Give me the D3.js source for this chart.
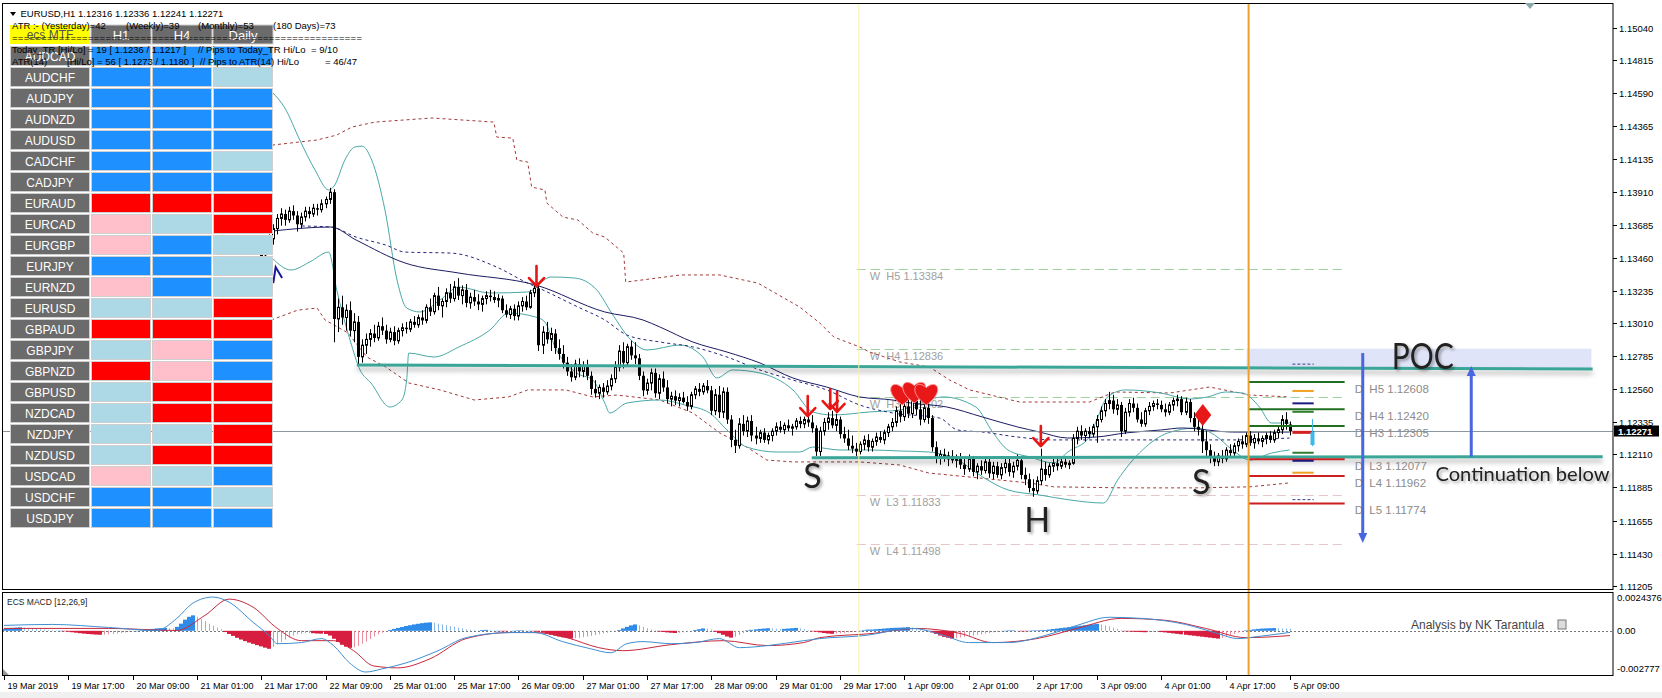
<!DOCTYPE html>
<html>
<head>
<meta charset="utf-8">
<script src="https://cdn.jsdelivr.net/npm/d3@7"></script>
<style>
  body { margin: 0; background: #fff; }
  svg { display: block; font-family: "Liberation Sans", Arial, sans-serif; }
</style>
</head>
<body>
<div id="chart"></div>
<script>
// ---- data ----
const firstBar = 64;   // bars before this sit behind the MTF table
// [open, high, low, close], one per H1 bar from bar 64 to bar 320
const ohlc = [
[1.1343,1.1352,1.1338,1.1348],[1.1348,1.1356,1.1344,1.1353],[1.1353,1.1362,1.1349,1.1359],[1.1359,1.1369,1.1355,1.1366],
[1.1366,1.1376,1.1362,1.1373],[1.1373,1.1380,1.1368,1.1376],[1.1376,1.1379,1.1368,1.1372],[1.1372,1.1381,1.1370,1.1378],
[1.1378,1.1382,1.1372,1.1375],[1.1375,1.1378,1.1364,1.1369],[1.1369,1.1377,1.1366,1.1374],[1.1374,1.1381,1.1371,1.1378],
[1.1378,1.1381,1.1373,1.1376],[1.1376,1.1383,1.1374,1.1380],[1.1380,1.1383,1.1375,1.1379],[1.1379,1.1386,1.1377,1.1383],
[1.1383,1.1388,1.1380,1.1386],[1.1386,1.1394,1.1383,1.1391],[1.1391,1.1393,1.1288,1.1304],[1.1304,1.1318,1.1295,1.1312],
[1.1312,1.1320,1.1300,1.1305],[1.1305,1.1314,1.1296,1.1310],[1.1310,1.1316,1.1292,1.1296],[1.1296,1.1308,1.1288,1.1302],
[1.1302,1.1306,1.1273,1.1278],[1.1278,1.1290,1.1274,1.1286],[1.1286,1.1294,1.1280,1.1290],[1.1290,1.1297,1.1285,1.1294],
[1.1294,1.1300,1.1288,1.1291],[1.1291,1.1302,1.1289,1.1299],[1.1299,1.1305,1.1293,1.1296],[1.1296,1.1300,1.1287,1.1290],
[1.1290,1.1298,1.1288,1.1295],[1.1295,1.1299,1.1286,1.1289],[1.1289,1.1298,1.1287,1.1296],[1.1296,1.1301,1.1292,1.1298],
[1.1298,1.1302,1.1294,1.1297],[1.1297,1.1304,1.1295,1.1302],[1.1302,1.1306,1.1298,1.1300],[1.1300,1.1307,1.1298,1.1305],
[1.1305,1.1310,1.1300,1.1303],[1.1303,1.1314,1.1301,1.1312],[1.1312,1.1318,1.1306,1.1309],[1.1309,1.1322,1.1307,1.1320],
[1.1320,1.1326,1.1310,1.1313],[1.1313,1.1318,1.1305,1.1316],[1.1316,1.1325,1.1312,1.1322],[1.1322,1.1328,1.1315,1.1318],
[1.1318,1.1330,1.1316,1.1326],[1.1326,1.1332,1.1317,1.1320],[1.1320,1.1327,1.1314,1.1324],[1.1324,1.1328,1.1312,1.1315],
[1.1315,1.1322,1.1311,1.1319],[1.1319,1.1324,1.1313,1.1316],[1.1316,1.1321,1.1310,1.1314],[1.1314,1.1320,1.1309,1.1318],
[1.1318,1.1323,1.1314,1.1320],[1.1320,1.1324,1.1316,1.1319],[1.1319,1.1323,1.1315,1.1317],[1.1317,1.1321,1.1312,1.1318],
[1.1318,1.1320,1.1308,1.1310],[1.1310,1.1314,1.1305,1.1307],[1.1307,1.1313,1.1304,1.1311],[1.1311,1.1314,1.1303,1.1306],
[1.1306,1.1316,1.1303,1.1313],[1.1313,1.1319,1.1309,1.1316],[1.1316,1.1320,1.1310,1.1312],[1.1312,1.1324,1.1311,1.1322],
[1.1322,1.1329,1.1319,1.1325],[1.1325,1.1327,1.1282,1.1286],[1.1286,1.1299,1.1280,1.1295],[1.1295,1.1302,1.1287,1.1290],
[1.1290,1.1298,1.1282,1.1294],[1.1294,1.1297,1.1280,1.1284],[1.1284,1.1290,1.1276,1.1280],[1.1280,1.1286,1.1270,1.1274],
[1.1274,1.1278,1.1265,1.1268],[1.1268,1.1273,1.1261,1.1264],[1.1264,1.1276,1.1262,1.1273],[1.1273,1.1277,1.1264,1.1268],
[1.1268,1.1275,1.1264,1.1272],[1.1272,1.1276,1.1262,1.1265],[1.1265,1.1268,1.1252,1.1256],[1.1256,1.1262,1.1250,1.1253],
[1.1253,1.1259,1.1249,1.1257],[1.1257,1.1260,1.1250,1.1254],[1.1254,1.1262,1.1252,1.1258],[1.1258,1.1266,1.1255,1.1263],
[1.1263,1.1275,1.1260,1.1271],[1.1271,1.1286,1.1268,1.1282],[1.1282,1.1288,1.1270,1.1274],[1.1274,1.1287,1.1272,1.1285],
[1.1285,1.1289,1.1276,1.1279],[1.1279,1.1288,1.1273,1.1277],[1.1277,1.1280,1.1262,1.1265],[1.1265,1.1268,1.1251,1.1255],
[1.1255,1.1263,1.1252,1.1260],[1.1260,1.1270,1.1255,1.1267],[1.1267,1.1270,1.1250,1.1253],[1.1253,1.1266,1.1249,1.1263],
[1.1263,1.1268,1.1254,1.1257],[1.1257,1.1262,1.1246,1.1249],[1.1249,1.1254,1.1244,1.1251],[1.1251,1.1255,1.1245,1.1248],
[1.1248,1.1253,1.1244,1.1250],[1.1250,1.1254,1.1246,1.1247],[1.1247,1.1251,1.1241,1.1244],[1.1244,1.1254,1.1242,1.1252],
[1.1252,1.1258,1.1249,1.1256],[1.1256,1.1260,1.1251,1.1254],[1.1254,1.1260,1.1252,1.1258],[1.1258,1.1262,1.1253,1.1255],
[1.1255,1.1258,1.1238,1.1241],[1.1241,1.1256,1.1238,1.1252],[1.1252,1.1258,1.1236,1.1240],[1.1240,1.1257,1.1236,1.1254],
[1.1254,1.1257,1.1232,1.1235],[1.1235,1.1238,1.1216,1.1221],[1.1221,1.1228,1.1212,1.1217],[1.1217,1.1236,1.1215,1.1232],
[1.1232,1.1238,1.1224,1.1227],[1.1227,1.1237,1.1223,1.1234],[1.1234,1.1238,1.1220,1.1224],[1.1224,1.1230,1.1218,1.1222],
[1.1222,1.1228,1.1219,1.1226],[1.1226,1.1229,1.1219,1.1221],[1.1221,1.1226,1.1218,1.1224],[1.1224,1.1229,1.1220,1.1227],
[1.1227,1.1233,1.1224,1.1230],[1.1230,1.1234,1.1226,1.1228],[1.1228,1.1233,1.1225,1.1231],[1.1231,1.1235,1.1227,1.1229],
[1.1229,1.1232,1.1224,1.1230],[1.1230,1.1236,1.1228,1.1234],[1.1234,1.1237,1.1229,1.1232],[1.1232,1.1237,1.1229,1.1235],
[1.1235,1.1240,1.1230,1.1233],[1.1233,1.1238,1.1226,1.1229],[1.1229,1.1231,1.1210,1.1213],[1.1213,1.1230,1.1210,1.1227],
[1.1227,1.1236,1.1224,1.1233],[1.1233,1.1240,1.1228,1.1236],[1.1236,1.1241,1.1229,1.1231],[1.1231,1.1239,1.1227,1.1235],
[1.1235,1.1237,1.1222,1.1225],[1.1225,1.1230,1.1219,1.1222],[1.1222,1.1228,1.1214,1.1217],[1.1217,1.1224,1.1212,1.1215],
[1.1215,1.1219,1.1210,1.1213],[1.1213,1.1220,1.1211,1.1218],[1.1218,1.1224,1.1214,1.1221],[1.1221,1.1225,1.1213,1.1216],
[1.1216,1.1222,1.1213,1.1220],[1.1220,1.1226,1.1217,1.1223],[1.1223,1.1227,1.1219,1.1221],[1.1221,1.1228,1.1218,1.1226],
[1.1226,1.1232,1.1223,1.1230],[1.1230,1.1236,1.1227,1.1233],[1.1233,1.1244,1.1230,1.1241],[1.1241,1.1246,1.1233,1.1237],
[1.1237,1.1247,1.1234,1.1244],[1.1244,1.1250,1.1236,1.1239],[1.1239,1.1252,1.1236,1.1248],[1.1248,1.1254,1.1238,1.1242],
[1.1242,1.1250,1.1231,1.1235],[1.1235,1.1246,1.1233,1.1243],[1.1243,1.1250,1.1232,1.1236],[1.1236,1.1238,1.1213,1.1216],
[1.1216,1.1220,1.1205,1.1209],[1.1209,1.1214,1.1204,1.1211],[1.1211,1.1215,1.1206,1.1208],[1.1208,1.1213,1.1203,1.1210],
[1.1210,1.1214,1.1205,1.1207],[1.1207,1.1211,1.1202,1.1209],[1.1209,1.1212,1.1201,1.1204],[1.1204,1.1209,1.1197,1.1201],
[1.1201,1.1211,1.1199,1.1208],[1.1208,1.1210,1.1196,1.1199],[1.1199,1.1205,1.1194,1.1203],[1.1203,1.1207,1.1197,1.1200],
[1.1200,1.1209,1.1198,1.1206],[1.1206,1.1208,1.1195,1.1198],[1.1198,1.1206,1.1194,1.1203],[1.1203,1.1206,1.1195,1.1197],
[1.1197,1.1205,1.1194,1.1202],[1.1202,1.1208,1.1198,1.1205],[1.1205,1.1209,1.1196,1.1199],[1.1199,1.1206,1.1195,1.1203],
[1.1203,1.1211,1.1200,1.1207],[1.1207,1.1210,1.1194,1.1197],[1.1197,1.1202,1.1190,1.1194],[1.1194,1.1198,1.1185,1.1188],
[1.1188,1.1194,1.1182,1.1186],[1.1186,1.1196,1.1184,1.1193],[1.1193,1.1215,1.1190,1.1201],[1.1201,1.1206,1.1193,1.1197],
[1.1197,1.1205,1.1195,1.1203],[1.1203,1.1208,1.1199,1.1205],[1.1205,1.1209,1.1200,1.1203],[1.1203,1.1208,1.1201,1.1206],
[1.1206,1.1209,1.1202,1.1204],[1.1204,1.1207,1.1201,1.1205],[1.1205,1.1225,1.1204,1.1222],[1.1222,1.1230,1.1218,1.1227],
[1.1227,1.1231,1.1221,1.1224],[1.1224,1.1229,1.1220,1.1227],[1.1227,1.1230,1.1222,1.1225],[1.1225,1.1232,1.1223,1.1230],
[1.1230,1.1238,1.1219,1.1235],[1.1235,1.1244,1.1233,1.1241],[1.1241,1.1249,1.1237,1.1246],[1.1246,1.1254,1.1242,1.1248],
[1.1248,1.1252,1.1239,1.1242],[1.1242,1.1249,1.1238,1.1245],[1.1245,1.1247,1.1223,1.1227],[1.1227,1.1243,1.1225,1.1240],
[1.1240,1.1249,1.1237,1.1246],[1.1246,1.1250,1.1240,1.1243],[1.1243,1.1246,1.1233,1.1235],[1.1235,1.1240,1.1230,1.1232],
[1.1232,1.1243,1.1230,1.1241],[1.1241,1.1247,1.1238,1.1244],[1.1244,1.1248,1.1241,1.1246],[1.1246,1.1249,1.1242,1.1245],
[1.1245,1.1248,1.1240,1.1242],[1.1242,1.1246,1.1237,1.1240],[1.1240,1.1247,1.1238,1.1245],[1.1245,1.1250,1.1241,1.1248],
[1.1248,1.1252,1.1244,1.1249],[1.1249,1.1251,1.1238,1.1240],[1.1240,1.1250,1.1238,1.1247],[1.1247,1.1249,1.1233,1.1236],
[1.1236,1.1240,1.1227,1.1230],[1.1230,1.1236,1.1224,1.1228],[1.1228,1.1232,1.1212,1.1220],[1.1220,1.1227,1.1210,1.1214],
[1.1214,1.1218,1.1205,1.1209],[1.1209,1.1213,1.1203,1.1206],[1.1206,1.1212,1.1203,1.1210],[1.1210,1.1214,1.1205,1.1208],
[1.1208,1.1216,1.1206,1.1214],[1.1214,1.1218,1.1209,1.1212],[1.1212,1.1219,1.1210,1.1217],[1.1217,1.1222,1.1213,1.1220],
[1.1220,1.1224,1.1215,1.1218],[1.1218,1.1226,1.1216,1.1224],[1.1224,1.1227,1.1217,1.1219],[1.1219,1.1225,1.1215,1.1222],
[1.1222,1.1226,1.1218,1.1220],[1.1220,1.1224,1.1216,1.1222],[1.1222,1.1226,1.1218,1.1224],[1.1224,1.1227,1.1219,1.1221],
[1.1221,1.1228,1.1219,1.1226],[1.1226,1.1230,1.1222,1.1228],[1.1228,1.1238,1.1225,1.1235],[1.1235,1.1240,1.1228,1.1232],
[1.12316,1.12336,1.12241,1.12271]
];

const timeLabels = ["19 Mar 2019","19 Mar 17:00","20 Mar 09:00","21 Mar 01:00","21 Mar 17:00","22 Mar 09:00",
  "25 Mar 01:00","25 Mar 17:00","26 Mar 09:00","27 Mar 01:00","27 Mar 17:00","28 Mar 09:00","29 Mar 01:00",
  "29 Mar 17:00","1 Apr 09:00","2 Apr 01:00","2 Apr 17:00","3 Apr 09:00","4 Apr 01:00","4 Apr 17:00","5 Apr 09:00"];
const barsPerLabel = 16;
const priceTicks = [1.15040,1.14815,1.14590,1.14365,1.14135,1.13910,1.13685,1.13460,1.13235,1.13010,
  1.12785,1.12560,1.12335,1.12110,1.11885,1.11655,1.11430,1.11205];
const lastPrice = 1.12271;

// indicator lines: [bar, price]
const bbUpper = [[66.7,1.14597],[69.9,1.14487],[73.6,1.14268],[77.4,1.14062],[80.8,1.13925],[82.3,1.13959],[84.8,1.14130],
  [87.3,1.14220],[89.1,1.14226],[91.5,1.14130],[94.8,1.13787],[97.8,1.13307],[100.2,1.13115],[103.5,1.13088],[108.5,1.13170],
  [113.2,1.13259],[120.9,1.13218],[130.3,1.13225],[136.1,1.13328],[142.0,1.13321],[147.5,1.13239],[151.2,1.13081],[156.0,1.12896],
  [160.0,1.12827],[168.2,1.12861],[173.9,1.12779],[177.4,1.12635],[181.3,1.12690],[188.1,1.12669],[196.3,1.12553],[201.2,1.12402],
  [206.2,1.12381],[215.4,1.12402],[222.9,1.12415],[233.6,1.12505],[241.8,1.12436],[246.0,1.12264],[249.8,1.12141],[255.2,1.12093],
  [261.2,1.12052],[264.7,1.12127],[270.1,1.12230],[271.9,1.12347],[274.6,1.12505],[279.1,1.12553],[287.8,1.12532],[295.0,1.12491],
  [299.5,1.12505],[304.0,1.12539],[308.2,1.12532],[312.4,1.12436],[315.4,1.12326],[319.9,1.12326]];
const bbLower = [[66.7,1.13458],[71.4,1.13376],[76.1,1.13431],[80.8,1.13499],[82.8,1.13239],[86.1,1.12896],[88.6,1.12690],
  [91.3,1.12601],[96.0,1.12436],[99.0,1.12484],[100.2,1.12621],[100.7,1.12806],[107.0,1.12779],[113.2,1.12848],[120.9,1.12964],
  [125.6,1.13081],[132.3,1.13053],[134.6,1.13019],[137.1,1.12848],[142.5,1.12669],[146.5,1.12621],[149.5,1.12463],[150.7,1.12395],
  [155.0,1.12463],[163.2,1.12484],[169.4,1.12450],[175.6,1.12395],[179.9,1.12278],[184.8,1.12161],[192.3,1.12127],[198.0,1.12127],
  [201.2,1.12161],[208.0,1.12141],[215.4,1.12141],[222.9,1.12134],[230.1,1.12127],[237.3,1.12072],[243.5,1.11956],[249.8,1.11867],
  [257.7,1.11832],[265.2,1.11798],[273.6,1.11777],[277.1,1.11935],[283.3,1.12141],[289.6,1.12258],[296.8,1.12292],[301.2,1.12244],
  [305.7,1.12141],[310.0,1.12072],[315.4,1.12120],[319.9,1.12141]];
const maSolid = [[66.7,1.13643],[81.3,1.13671],[87.6,1.13582],[99.8,1.13424],[113.2,1.13355],[132.3,1.13273],[149.5,1.13088],
  [159.0,1.13033],[163.2,1.12985],[171.4,1.12882],[179.9,1.12813],[188.1,1.12738],[196.3,1.12635],[204.7,1.12573],[212.9,1.12505],
  [221.1,1.12484],[225.6,1.12463],[234.6,1.12436],[243.5,1.12367],[252.2,1.12299],[257.7,1.12264],[264.7,1.12223],[271.9,1.12230],
  [279.1,1.12258],[287.8,1.12278],[293.3,1.12292],[305.7,1.12264],[319.9,1.12264]];
const maDashed = [[74.1,1.13678],[81.3,1.13671],[87.6,1.13602],[95.0,1.13547],[99.8,1.13499],[111.2,1.13492],[122.6,1.13396],
  [130.3,1.13286],[134.1,1.13239],[142.8,1.13122],[149.5,1.13033],[155.0,1.12930],[163.2,1.12882],[171.4,1.12848],[179.9,1.12779],
  [188.1,1.12690],[196.3,1.12621],[204.7,1.12553],[212.9,1.12450],[221.1,1.12395],[232.8,1.12360],[237.3,1.12278],[243.5,1.12264],
  [252.2,1.12230],[261.2,1.12210],[279.1,1.12210],[305.7,1.12210],[319.9,1.12223]];
const envUpper = [[66.7,1.14233],[77.9,1.14268],[82.8,1.14302],[86.6,1.14357],[92.3,1.14391],[106.5,1.14419],[121.9,1.14391],
  [122.6,1.14288],[126.6,1.14281],[127.6,1.14130],[130.3,1.14117],[131.3,1.13945],[134.6,1.13925],[135.1,1.13835],[139.1,1.13739],
  [142.8,1.13719],[146.5,1.13630],[149.5,1.13602],[154.2,1.13492],[154.7,1.13293],[168.4,1.13342],[178.1,1.13342],[187.6,1.13286],
  [198.0,1.13122],[203.0,1.13012],[206.5,1.12916],[212.9,1.12848],[215.4,1.12813],[222.9,1.12745],[230.3,1.12710],[235.3,1.12621],
  [240.3,1.12553],[252.7,1.12470],[270.1,1.12470],[276.4,1.12539],[290.1,1.12532],[300.0,1.12573],[310.0,1.12518],[319.9,1.12505]];
const envLower = [[66.5,1.13033],[73.1,1.13101],[77.9,1.13115],[79.9,1.13033],[85.6,1.12944],[90.3,1.12779],[95.0,1.12710],
  [100.7,1.12601],[108.5,1.12553],[117.0,1.12484],[125.6,1.12505],[130.3,1.12553],[139.8,1.12553],[146.5,1.12505],[152.5,1.12518],
  [163.2,1.12484],[171.4,1.12395],[178.1,1.12258],[184.8,1.12161],[189.8,1.12072],[196.3,1.12059],[212.9,1.12059],[222.9,1.12038],
  [230.1,1.11983],[255.0,1.11915],[261.2,1.11888],[279.1,1.11881],[296.8,1.11881],[310.0,1.11888],[319.9,1.11915]];

// MACD histogram, one value per bar 0..320, in 0.00001 units
const macdHist = [
  12,15,18,20,22,20,18,15,12,10,8, 6,4,2,0,
  -3,-6,-9,-12,-15,-18,-20,-22,-24,-25,-24,-22,-20,-17,-14,-10,-6, -3,0,3,6,
  9,12,15,17,18,17,16, 25,45,70,88,97, 88,75,60,45,32,20,10,
  -8,-20,-32,-44,-55,-65,-74,-82,-90,-98,-106,-113, -100,-85,-70,-55,-42,-30,
  -22,-18,-15,-14,-15,-17,-18,-20, -30,-50,-70,-88,-100,-107, -104,-95,-82,-68,-52,-36,-22, -12,-4,
  5,12,18,24,30,35,40,44,48,51,53, 50,45,40,35,30,25,20,15,10,6,
  4,3,5,6,4,2,0,-2,-3,-2,0,2,3,2,0,-2, -6,-12,-18,-24,-30,-36,-41,-45,-49,
  -47,-44,-40,-36,-32,-27,-22,-17,-12,-8,-4, 5,15,25,34,40, 34,25,16,8,3,
  -4,-7,-10,-12,-14,-12,-10,-7,-4, 5,10,15,13,8, -6,-15,-25,-36,-43, -38,-26,-14,
  3,6,9,12,14,16,15,13,11,12,14,16,18,15,10, 4,-2,-6,-10,-14,-17,-19,-18,-16,-13,-10,-7,-4,
  0,4,8, 8,10,12,14,16,18,19,20,21,23, 20,15,10,5,1, -10,-20,-30,-38,-44,-49,
  -46,-42,-38,-34,-30,-26,-22,-18,-14,-10,-6, -3,0,2,3,1,-1,-2,0,2,3,4,5,
  8,11,14,17,20,23,26,29,32,35,38,41,44, 40,34,28,20,13,6,
  -2,-4,-6,-7,-8,-9,-8,-7,-6,-8,-10, -13,-16,-19,-22,-25,-28,-31,-34,-37,-40,-43,-46,-49,
  -44,-36,-28,-20,-12,-5, 3,6,9,12,14,15,16,17,16,15,14,13
];
const macdMain = [[0,0.00034],[12,0.0004],[26,0.00021],[38,0.00002],[43,0.00078],[47,0.00174],[52,0.00212],[56,0.0018],
  [62,0.00053],[66,-0.0003],[68,-0.00081],[74,-0.00074],[79,-0.00049],[82,-0.00093],[86,-0.00202],[90,-0.00259],[94,-0.0024],
  [100,-0.00202],[108,-0.00125],[115,-0.00043],[126,-0.00011],[132,-0.00011],[139,-0.00068],[146,-0.00113],[151,-0.00138],
  [155,-0.00081],[159,-0.00068],[166,-0.00081],[172,-0.00074],[178,-0.00049],[183,-0.00106],[190,-0.00093],[199,-0.00062],
  [203,-0.00049],[214,-0.0003],[226,0.00015],[234,-0.0003],[240,-0.00074],[250,-0.00074],[259,-0.0003],[267,0.00034],
  [275,0.00085],[283,0.00078],[294,0.0004],[302,-0.00017],[307,-0.00049],[312,-0.00036],[320,-0.0001]];
const macdSignal = [[0,0.00015],[26,0.00015],[43,0.00002],[50,0.00097],[56,0.00199],[62,0.00148],[68,0.00015],[74,-0.00062],
  [82,-0.00062],[87,-0.00125],[92,-0.00221],[98,-0.00233],[106,-0.00176],[115,-0.00049],[126,-0.00011],[132,-0.00011],
  [140,-0.00043],[148,-0.00106],[154,-0.00125],[166,-0.00087],[179,-0.00062],[190,-0.00093],[199,-0.00074],[203,-0.00043],
  [216,-0.00017],[227,0.00015],[238,-0.00017],[246,-0.00074],[257,-0.00049],[267,0.00015],[278,0.00078],[289,0.00066],
  [299,0.00015],[309,-0.00043],[320,-0.0003]];
const macdMax = 0.0024376, macdMin = -0.002777;

// pivots and levels
const weeklyPivots = [["H5",1.13384],["H4",1.12836],["H3",1.12502],["L3",1.11833],["L4",1.11498]];
const weeklySpan = [212.2, 333.6];
const dailyPivots = [["H5",1.12608],["H4",1.12420],["H3",1.12305],["L3",1.12077],["L4",1.11962],["L5",1.11774]];
const dailySpan = [309.7, 333.6];
const dailyMarks = [[1.12546,"#f0a020"],[1.12461,"#1a1a80"],[1.12403,"#2e7d2e"],[1.12262,"#d42020"],
  [1.12122,"#2e7d2e"],[1.12067,"#1a1a80"],[1.11985,"#f0a020"]];
const atrMarks = [1.1273, 1.1180];
const markSpan = [320.6, 325.9];
const daySeparators = [[212.7,"#f6f0b0",1],[309.7,"#eda030",2]];

// drawn annotations
const trendLines = [[[87.8,1.12724],[395.3,1.12697]], [[201,1.12088],[397.8,1.12095]]];
const pocBox = [309.2, 395, 1.12836, 1.12703];
const blueArrows = [[338.1,1.12806,1.11503],[365.1,1.12095,1.12717]];
const bigLabels = [["POC",345.3,1.12696,37,62,"start"],["Continuation below",356.2,1.11928,20,174,"start"],
  ["S",201.2,1.11880,34,0,"middle"],["H",257.1,1.11578,34,0,"middle"],["S",297.9,1.11839,34,0,"middle"]];
const sellArrows = [[132.5,1.13259],[200,1.12367],[205.6,1.12415],[207.3,1.12395],[258,1.12161]];
const hearts = [[223.5,1.12532],[226.5,1.12546],[229.5,1.12532]];
const diamonds = [[298.3,1.12381]];

// MTF table
const mtfCols = ["H1","H4","Daily"];
const mtfPairs = ["AUDCAD","AUDCHF","AUDJPY","AUDNZD","AUDUSD","CADCHF","CADJPY","EURAUD","EURCAD","EURGBP","EURJPY",
  "EURNZD","EURUSD","GBPAUD","GBPJPY","GBPNZD","GBPUSD","NZDCAD","NZDJPY","NZDUSD","USDCAD","USDCHF","USDJPY"];
const mtfStates = ["BBB","BBL","BBB","BBB","BBB","BBL","BBB","RRR","PLR","PBL","BBL","PBL","LLR","RRR","LPB","RPB",
  "LRR","LRR","LLR","LRR","PLB","BBL","BBB"];
const mtfColor = {B:"#1e90ff", L:"#add8e6", R:"#ff0000", P:"#ffc0cb"};

// ---- drawing ----
const W = 1662, H = 698;
const mainTop = 3, mainBottom = 589, subTop = 592, subBottom = 675, plotRight = 1613;

const x = d3.scaleLinear().domain([0, 320]).range([4, 1290]);
const y = d3.scaleLinear().domain([1.11187, 1.15215]).range([mainBottom, 2]);
const ym = d3.scaleLinear().domain([macdMin, macdMax]).range([subBottom, subTop]);

const svg = d3.select("#chart").append("svg")
    .attr("width", W)
    .attr("height", H);

svg.append("rect").attr("width", W).attr("height", H).attr("fill", "#fff");
svg.append("rect").attr("x", 0).attr("y", 692).attr("width", W).attr("height", 6).attr("fill", "#f0f0f0");

const defs = svg.append("defs");
defs.append("clipPath").attr("id", "clipMain").append("rect")
    .attr("x", 2).attr("y", mainTop).attr("width", plotRight - 2).attr("height", mainBottom - mainTop);
defs.append("clipPath").attr("id", "clipSub").append("rect")
    .attr("x", 2).attr("y", subTop).attr("width", plotRight - 2).attr("height", subBottom - subTop);
defs.append("filter").attr("id", "txtShadow").attr("filterUnits", "userSpaceOnUse")
    .attr("x", 0).attr("y", 0).attr("width", W).attr("height", H)
  .append("feDropShadow").attr("dx", 2).attr("dy", 2).attr("stdDeviation", 1.4)
    .attr("flood-color", "#000").attr("flood-opacity", 0.35);
defs.append("filter").attr("id", "lineShadow").attr("filterUnits", "userSpaceOnUse")
    .attr("x", 0).attr("y", 0).attr("width", W).attr("height", H)
  .append("feDropShadow").attr("dx", 0).attr("dy", 4).attr("stdDeviation", 2.5)
    .attr("flood-color", "#000").attr("flood-opacity", 0.3);

const main = svg.append("g").attr("clip-path", "url(#clipMain)");
const sub = svg.append("g").attr("clip-path", "url(#clipSub)");

const line = d3.line().x(d => x(d[0])).y(d => y(d[1]));
const smooth = d3.line().x(d => x(d[0])).y(d => y(d[1])).curve(d3.curveMonotoneX);

// weekly pivots
weeklyPivots.forEach(([name, v]) => {
  const isHigh = name[0] === "H";
  main.append("line")
      .attr("x1", x(weeklySpan[0])).attr("x2", x(weeklySpan[1]))
      .attr("y1", Math.round(y(v)) + 0.5).attr("y2", Math.round(y(v)) + 0.5)
      .attr("stroke", isHigh ? "#9ed29e" : "#e6c6c6")
      .attr("stroke-dasharray", "9,5");
  main.append("text")
      .attr("x", x(weeklySpan[0]) + 13).attr("y", y(v) + 11)
      .style("white-space", "pre")
      .attr("font-size", 11).attr("fill", "#a0a0a0")
      .text("W  " + name + " " + v.toFixed(5));
});

// envelopes, bands, averages
main.append("path").attr("d", line(envUpper)).attr("fill", "none")
    .attr("stroke", "#a33a3a").attr("stroke-dasharray", "3,3");
main.append("path").attr("d", line(envLower)).attr("fill", "none")
    .attr("stroke", "#a33a3a").attr("stroke-dasharray", "3,3");
main.append("path").attr("d", smooth(bbUpper)).attr("fill", "none").attr("stroke", "#4aa8a8");
main.append("path").attr("d", smooth(bbLower)).attr("fill", "none").attr("stroke", "#4aa8a8");
main.append("path").attr("d", smooth(maDashed)).attr("fill", "none")
    .attr("stroke", "#26267e").attr("stroke-dasharray", "3,3");
main.append("path").attr("d", smooth(maSolid)).attr("fill", "none").attr("stroke", "#1c1c64");

// current price line
main.append("line")
    .attr("x1", 2).attr("x2", plotRight)
    .attr("y1", Math.round(y(lastPrice)) + 0.5).attr("y2", Math.round(y(lastPrice)) + 0.5)
    .attr("stroke", "#8a96a0");

// day separators (both panels)
daySeparators.forEach(([i, c, w]) => {
  svg.append("line")
      .attr("x1", x(i)).attr("x2", x(i))
      .attr("y1", mainTop).attr("y2", subBottom)
      .attr("stroke", c).attr("stroke-width", w);
});

// candles
const candles = main.append("g")
  .selectAll("g")
  .data(ohlc)
  .enter().append("g");

candles.append("line")
    .attr("x1", (d, k) => Math.round(x(firstBar + k)) + 0.5)
    .attr("x2", (d, k) => Math.round(x(firstBar + k)) + 0.5)
    .attr("y1", d => y(d[1]))
    .attr("y2", d => y(d[2]))
    .attr("stroke", "#000");

candles.append("rect")
    .attr("x", (d, k) => Math.round(x(firstBar + k)) - (d[3] >= d[0] ? 0.5 : 1))
    .attr("width", d => d[3] >= d[0] ? 2 : 3)
    .attr("y", d => y(Math.max(d[0], d[3])))
    .attr("height", d => Math.max(y(Math.min(d[0], d[3])) - y(Math.max(d[0], d[3])), 1))
    .attr("fill", d => d[3] >= d[0] ? "#fff" : "#000")
    .attr("stroke", d => d[3] >= d[0] ? "#000" : "none");

// left-edge up marker
main.append("path")
    .attr("d", line([[67.0,1.13286],[67.6,1.13396],[69.2,1.13321]]))
    .attr("fill", "none").attr("stroke", "#1515a0").attr("stroke-width", 2);

// POC zone
main.append("rect")
    .attr("x", x(pocBox[0])).attr("width", x(pocBox[1]) - x(pocBox[0]))
    .attr("y", y(pocBox[2])).attr("height", y(pocBox[3]) - y(pocBox[2]))
    .attr("fill", "#dfe4f8");

// trend lines with shadow
trendLines.forEach(seg => {
  main.append("path").attr("d", line(seg)).attr("fill", "none")
      .attr("stroke", "#3aa597").attr("stroke-width", 3)
      .attr("filter", "url(#lineShadow)");
});

// daily pivots
dailyPivots.forEach(([name, v]) => {
  main.append("line")
      .attr("x1", x(dailySpan[0])).attr("x2", x(dailySpan[1]))
      .attr("y1", y(v)).attr("y2", y(v))
      .attr("stroke", name[0] === "H" ? "#216f21" : "#cc1f1f").attr("stroke-width", 2);
  main.append("text")
      .attr("x", x(dailySpan[1]) + 10).attr("y", y(v) + 11)
      .style("white-space", "pre")
      .attr("font-size", 11.5).attr("fill", "#8c8c8c")
      .text("D  " + name + " " + v.toFixed(5));
});
dailyMarks.forEach(([v, c], k) => {
  main.append("line")
      .attr("x1", x(markSpan[0])).attr("x2", x(markSpan[1]))
      .attr("y1", y(v)).attr("y2", y(v))
      .attr("stroke", c).attr("stroke-width", k === 3 ? 3 : 2);
});
atrMarks.forEach(v => {
  main.append("line")
      .attr("x1", x(markSpan[0])).attr("x2", x(markSpan[1]))
      .attr("y1", y(v)).attr("y2", y(v))
      .attr("stroke", "#3a3a8a").attr("stroke-dasharray", "3,2");
});
main.append("line")
    .attr("x1", x(325.6)).attr("x2", x(325.6))
    .attr("y1", y(1.12353)).attr("y2", y(1.12168))
    .attr("stroke", "#3db8e8");
main.append("line")
    .attr("x1", x(325.6)).attr("x2", x(325.6))
    .attr("y1", y(1.12264)).attr("y2", y(1.12175))
    .attr("stroke", "#3db8e8").attr("stroke-width", 4);

// sell arrows
sellArrows.forEach(([i, p]) => {
  const cx = x(i), ty = y(p);
  main.append("path")
      .attr("d", `M${cx},${ty - 21}L${cx},${ty - 1}M${cx - 7.5},${ty - 9}L${cx},${ty - 1}L${cx + 7.5},${ty - 9}`)
      .attr("fill", "none").attr("stroke", "#e81515").attr("stroke-width", 2.6)
      .attr("stroke-linecap", "round").attr("stroke-linejoin", "round");
});

// hearts
hearts.forEach(([i, p]) => {
  const cx = x(i), cy = y(p), s = 12;
  main.append("path")
      .attr("d", `M${cx},${cy + s}C${cx - s * 1.6},${cy - s * 0.1} ${cx - s * 0.9},${cy - s * 1.25} ${cx},${cy - s * 0.45}` +
                 `C${cx + s * 0.9},${cy - s * 1.25} ${cx + s * 1.6},${cy - s * 0.1} ${cx},${cy + s}Z`)
      .attr("fill", "#e81818").attr("stroke", "#ff9a9a").attr("stroke-width", 1);
});

// diamond
diamonds.forEach(([i, p]) => {
  const cx = x(i), cy = y(p);
  main.append("path")
      .attr("d", `M${cx},${cy - 11}L${cx + 8.5},${cy}L${cx},${cy + 11}L${cx - 8.5},${cy}Z`)
      .attr("fill", "#e81818");
});

// blue arrows
blueArrows.forEach(([i, p0, p1]) => {
  const cx = x(i), y0 = y(p0), y1 = y(p1), dir = y1 > y0 ? 1 : -1;
  main.append("line")
      .attr("x1", cx).attr("x2", cx).attr("y1", y0).attr("y2", y1 - dir * 6)
      .attr("stroke", "#4867de").attr("stroke-width", 3);
  main.append("path")
      .attr("d", `M${cx - 4.5},${y1 - dir * 10}L${cx},${y1}L${cx + 4.5},${y1 - dir * 10}Z`)
      .attr("fill", "#4867de");
});

// big annotation text
bigLabels.forEach(([t, i, p, size, len, anchor]) => {
  const tx = main.append("text")
      .attr("x", x(i)).attr("y", y(p))
      .attr("text-anchor", anchor)
      .attr("font-family", "Lato, 'Open Sans', sans-serif")
      .attr("font-size", size)
      .attr("fill", "#222")
      .attr("filter", "url(#txtShadow)")
      .text(t);
  if (len) tx.attr("textLength", len).attr("lengthAdjust", "spacingAndGlyphs");
});

// ---- MACD panel ----
sub.append("line")
    .attr("x1", 2).attr("x2", plotRight)
    .attr("y1", Math.round(ym(0)) + 0.5).attr("y2", Math.round(ym(0)) + 0.5)
    .attr("stroke", "#777").attr("stroke-dasharray", "2,2");

sub.append("g")
  .selectAll("rect")
  .data(macdHist)
  .enter().append("rect")
    .each(function(v, i) {
      const val = v * 1e-5;
      const prev = i > 0 ? macdHist[i - 1] : 0;
      const grow = Math.abs(v) >= Math.abs(prev) || Math.sign(v) !== Math.sign(prev);
      const cx = Math.round(x(i));
      const top = Math.min(ym(val), ym(0)), h = Math.abs(ym(val) - ym(0));
      d3.select(this)
        .attr("x", grow ? cx - 2 : cx)
        .attr("width", grow ? 4 : 1)
        .attr("y", top).attr("height", Math.max(h, 0.5))
        .attr("fill", v >= 0 ? (grow ? "#2f8be8" : "#86b8ea") : (grow ? "#d81e40" : "#ea8d9d"));
    });

const mline = d3.line().x(d => x(d[0])).y(d => ym(d[1])).curve(d3.curveMonotoneX);
sub.append("path").attr("d", mline(macdSignal)).attr("fill", "none").attr("stroke", "#c8283c");
sub.append("path").attr("d", mline(macdMain)).attr("fill", "none").attr("stroke", "#3f8fd2");

svg.append("text").attr("x", 7).attr("y", 605).attr("font-size", 8.5).attr("fill", "#222")
    .text("ECS MACD [12,26,9]");
svg.append("text").attr("x", 1411).attr("y", 629).attr("font-size", 12).attr("fill", "#444")
    .text("Analysis by NK Tarantula");
svg.append("rect").attr("x", 1558).attr("y", 620).attr("width", 8).attr("height", 9)
    .attr("fill", "#ddd").attr("stroke", "#777");
svg.append("path").attr("d", "M2,668L2,675L9,675Z").attr("fill", "#999");

// ---- frames and axes ----
svg.append("rect").attr("x", 2.5).attr("y", mainTop + 0.5)
    .attr("width", plotRight - 2.5).attr("height", mainBottom - mainTop)
    .attr("fill", "none").attr("stroke", "#000");
svg.append("rect").attr("x", 2.5).attr("y", subTop + 0.5)
    .attr("width", plotRight - 2.5).attr("height", subBottom - subTop)
    .attr("fill", "none").attr("stroke", "#000");
svg.append("path").attr("d", "M1525,3L1535,3L1530,9Z").attr("fill", "#8aa8a8");

const yAxis = svg.append("g");
priceTicks.forEach(p => {
  const ty = Math.round(y(p)) + 0.5;
  yAxis.append("line").attr("x1", plotRight).attr("x2", plotRight + 4).attr("y1", ty).attr("y2", ty).attr("stroke", "#000");
  yAxis.append("text").attr("x", plotRight + 6).attr("y", ty + 3.5).attr("font-size", 9.5).text(p.toFixed(5));
});
yAxis.append("rect").attr("x", plotRight + 1).attr("y", y(lastPrice) - 5.5).attr("width", 45).attr("height", 11)
    .attr("fill", "#000");
yAxis.append("text").attr("x", plotRight + 5).attr("y", y(lastPrice) + 3.5).attr("font-size", 9.5)
    .attr("font-weight", "bold").attr("fill", "#fff").text(lastPrice.toFixed(5));
[[macdMax, "0.0024376", 9], [0, "0.00", 3], [macdMin, "-0.002777", -3]].forEach(([v, t, dy]) => {
  yAxis.append("text").attr("x", plotRight + 4).attr("y", ym(v) + dy).attr("font-size", 9.5).text(t);
});

const xAxis = svg.append("g");
timeLabels.forEach((t, k) => {
  const tx = Math.round(x(k * barsPerLabel)) + 0.5;
  xAxis.append("line").attr("x1", tx).attr("x2", tx).attr("y1", subBottom).attr("y2", subBottom + 5).attr("stroke", "#000");
  xAxis.append("text").attr("x", tx + 3).attr("y", 689).attr("font-size", 9).text(t);
});

// ---- MTF table ----
const tbl = svg.append("g");
tbl.append("rect").attr("x", 10).attr("y", 25).attr("width", 80).attr("height", 19).attr("fill", "#ffff00");
tbl.append("text").attr("x", 50).attr("y", 39).attr("text-anchor", "middle").attr("font-size", 12)
    .attr("fill", "#555").text("ecs MTF");
mtfCols.forEach((c, j) => {
  tbl.append("rect").attr("x", 91 + j * 61).attr("y", 25).attr("width", 60).attr("height", 19)
      .attr("fill", "#6b6b6b").attr("stroke", "#cfcfcf");
  tbl.append("text").attr("x", 121 + j * 61).attr("y", 39.5).attr("text-anchor", "middle")
      .attr("font-size", 13).attr("fill", "#fff").text(c);
});
const rows = tbl.selectAll("g.row")
  .data(mtfPairs)
  .enter().append("g")
    .attr("transform", (d, k) => `translate(0,${46 + k * 21})`);
rows.append("rect").attr("x", 10.5).attr("y", 0.5).attr("width", 79).attr("height", 19)
    .attr("fill", "#6b6b6b").attr("stroke", "#cfcfcf");
rows.append("text").attr("x", 50).attr("y", 14.5).attr("text-anchor", "middle")
    .attr("font-size", 12).attr("fill", "#fff").text(d => d);
mtfCols.forEach((c, j) => {
  rows.append("rect").attr("x", 91.5 + j * 61).attr("y", 0.5).attr("width", 59).attr("height", 19)
      .attr("fill", (d, k) => mtfColor[mtfStates[k][j]]).attr("stroke", "#cfcfcf");
});

// ---- info text on top ----
const info = svg.append("g").attr("font-size", 9.5).attr("fill", "#000").style("white-space", "pre");
info.append("path").attr("d", "M10,12L16,12L13,16Z").attr("fill", "#000");
info.append("text").attr("x", 20.5).attr("y", 17).text("EURUSD,H1  1.12316 1.12336 1.12241 1.12271");
[[12, "ATR :- (Yesterday)=42"], [126, "(Weekly)=39"], [198, "(Monthly)=53"], [273, "(180 Days)=73"]]
  .forEach(([tx, t]) => info.append("text").attr("x", tx).attr("y", 29).text(t));
info.append("text").attr("x", 12).attr("y", 41).attr("textLength", 350).attr("lengthAdjust", "spacing")
    .text("=".repeat(60));
[[12, "Today_TR [Hi/Lo] = 19 [ 1.1236 / 1.1217 ]"], [198, "// Pips to Today_TR Hi/Lo"], [311, "= 9/10"]]
  .forEach(([tx, t]) => info.append("text").attr("x", tx).attr("y", 53).text(t));
[[12, "ATR(14)"], [67, "[Hi/Lo] = 56 [ 1.1273 / 1.1180 ]"], [200, "//  Pips to ATR(14) Hi/Lo"], [325, "= 46/47"]]
  .forEach(([tx, t]) => info.append("text").attr("x", tx).attr("y", 64.5).text(t));
</script>
</body>
</html>
